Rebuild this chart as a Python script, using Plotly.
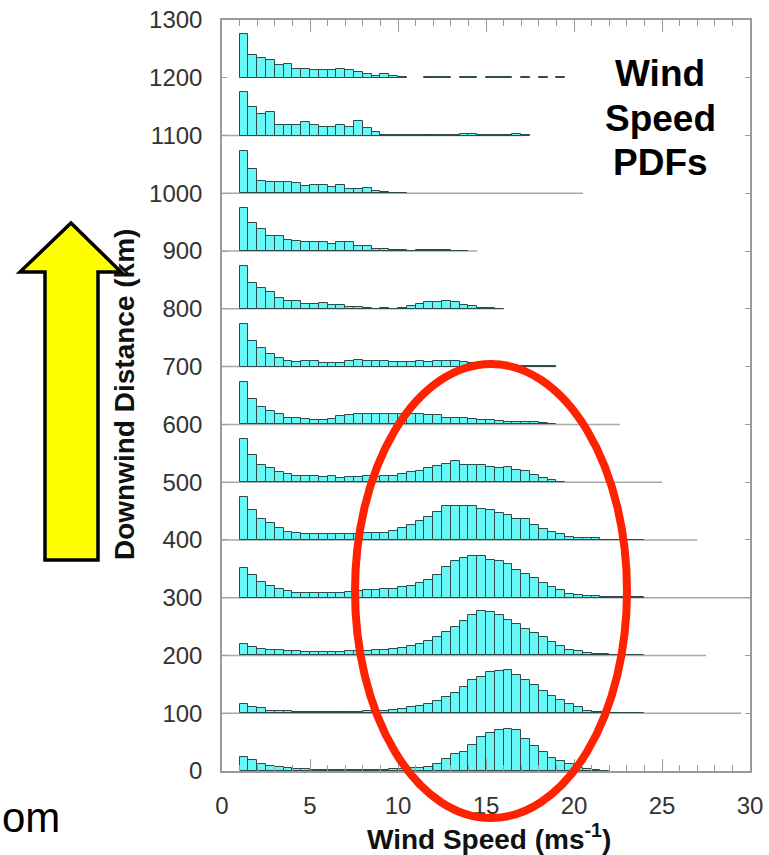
import plotly.graph_objects as go

# ---- data -------------------------------------------------------------
# Wind-speed histograms (0.5 m/s bins starting at 1 m/s) at each downwind
# distance; heights are in y-axis units above that row's baseline.
bin_start = 1.0
bin_width = 0.5

distances_km = [0, 100, 200, 300, 400, 500, 600, 700, 800, 900, 1000, 1100, 1200]

pdf_0km = [24, 18.5, 11.5, 8.7, 7.5, 4.6, 3.5, 2.9, 1, 1, 1, 1, 1, 1.7, 1.7, 1.7, 1.7,
           2.9, 4, 4.6, 5.8, 7.5, 12.7, 20, 29, 33.5, 45, 59, 66, 70.4, 72, 71, 55,
           43, 33.5, 23, 17.3, 12.7, 5.8, 3.5, 1.2, 0.5]
pdf_100km = [16, 10.4, 8.7, 4.6, 4.6, 3.5, 2.3, 1.7, 1.7, 1.7, 1.7, 1.7, 1.7, 1.7, 3.5,
             4.6, 4.6, 5.8, 7.5, 10.4, 13, 16, 21, 28, 34.6, 45, 57.7, 62, 71, 72.7,
             75, 67, 57.7, 49.6, 38, 30.6, 23, 16, 10.4, 4.6, 1.7, 1.5, 1, 0.5, 0.5, 0.5]
pdf_200km = [19.6, 14.4, 11, 9.8, 9.8, 7, 7, 5.8, 5.8, 5.8, 5.8, 5.8, 7, 7, 8, 9, 10,
             11, 13, 16.7, 20, 25, 32, 40, 49, 59, 70, 77, 74.5, 70, 62, 55, 45.6,
             38.7, 31.8, 22.5, 15.6, 9.8, 7, 4, 2.9, 1.7, 0.5, 0.5, 0.5, 0.5]
pdf_300km = [52, 39, 28, 21, 15.6, 11.5, 8, 8, 8, 8, 8, 8, 10, 11.5, 12.7, 14, 14.4,
             15.6, 18.5, 21, 25, 30, 40, 53, 63, 69, 72, 73, 66, 63, 59, 48.5, 41.5,
             34.6, 25, 18.5, 12.7, 7, 4, 3, 2.3, 2, 2, 1.5, 1, 0.5]
pdf_400km = [75, 52, 36, 30, 21, 14.4, 11.5, 9.8, 9.8, 9.8, 9.8, 9.8, 9.8, 9.8, 12.7,
             12.7, 12.7, 15.6, 20, 25, 32, 39, 49, 58, 59, 58, 58, 53, 52, 47, 43, 36,
             36, 26, 18.5, 14.4, 10.4, 5.8, 3.5, 3.5, 3.5, 0.5, 0.5, 0.5, 0.5, 0.5]
pdf_500km = [74, 47, 29, 25, 17.3, 13.3, 11.5, 9.8, 11.5, 8.7, 9.8, 7.5, 8.7, 8.7,
             11.5, 8.7, 11.5, 11.5, 14, 17, 20, 24, 28, 32, 37, 29, 29, 29, 27, 25,
             27, 21, 20, 12, 8, 3, 0.8]
pdf_600km = [73, 44, 30, 23, 18.5, 11, 11, 9.2, 7, 7, 9.8, 13.8, 15.6, 17.3, 18.5,
             18.5, 18.5, 17.3, 18.5, 18.5, 17.3, 15.6, 15.6, 11.5, 11.5, 11.5, 9, 8,
             7, 6, 5, 5, 4, 4, 2, 0.5]
pdf_700km = [74, 44, 32, 22, 15, 10.4, 7.5, 10.4, 10.4, 6.3, 6.3, 6.3, 10.4, 11.5,
             10.4, 10.4, 10.4, 7.5, 7.5, 7.5, 9.2, 7.5, 9.2, 10.4, 9, 8, 7, 5, 4, 3,
             2, 1.5, 1, 1, 0.5, 0.5]
pdf_800km = [74, 44, 36, 29, 19, 13.3, 13.3, 8.7, 8.7, 10.4, 6.3, 6.3, 4, 2.9, 1, 0.5,
             2, 0.5, 2, 4.6, 8.7, 11, 11, 13.3, 11.5, 7.5, 4.6, 2.3, 1.5, 0.5]
pdf_900km = [75, 49, 37.5, 26, 26, 18.5, 16.7, 15.6, 15.6, 15.6, 11.5, 15.6, 15.6, 8,
             8, 4, 4, 2.3, 1.5, 1, 2, 2, 2, 2, 1, 0.5]
pdf_1000km = [74, 42, 22, 19, 19, 19, 17.3, 13.3, 15, 15, 11.5, 15, 7.5, 7.5, 8.7,
              4.6, 2.3, 1, 0.5]
pdf_1100km = [75, 49, 37.5, 41.5, 18.5, 18.5, 18.5, 23, 19, 15.6, 15.6, 18.5, 15.6,
              26, 12.7, 5.8, 1.7, 1.7, 1.7, 1.7, 0.5, 0.5, 0.5, 0.5, 0.5, 3, 2.5, 1.5,
              0.5, 0.5, 0.5, 2, 0.5]
pdf_1200km = [76, 38.6, 34.6, 30, 22.5, 23, 15.6, 15.6, 12.7, 12.7, 12.7, 15.6, 12.7,
              9.8, 5.8, 3.5, 6.9, 3.5, 0.5, None, None, 0.5, 0.5, 0.5, None, 0.5, 0.5,
              None, 0.5, 0.5, 0.5, None, 0.5, None, 0.5, None, 0.5]

row_pdfs = [pdf_0km, pdf_100km, pdf_200km, pdf_300km, pdf_400km, pdf_500km, pdf_600km,
            pdf_700km, pdf_800km, pdf_900km, pdf_1000km, pdf_1100km, pdf_1200km]

# wind speed at which each row's baseline stops (None: no baseline drawn)
baseline_end = [None, 29.5, 27.5, 30, 27.0, 25.0, 22.6, 19.0, 16.0, 14.5, 20.5, 17.1, None]

x_tick_vals = [0, 5, 10, 15, 20, 25, 30]
y_tick_vals = list(range(0, 1301, 100))

# ---- styling ----------------------------------------------------------
W, H = 769, 855
L, R, T, B = 222, 750, 20, 771          # plot area in pixels
CYAN = "#66F7F7"
EDGE = "#2E4A4A"
FRAME = "#9A9A9A"
BASE = "#A8A8A8"
FONT = "Liberation Sans, Arial, Helvetica, sans-serif"


def px(x):
    return (x - L) / (R - L)


def py(y):
    return (B - y) / (B - T)


fig = go.Figure()

for dist, heights in zip(distances_km, row_pdfs):
    centers = [bin_start + bin_width * (k + 0.5) for k in range(len(heights))]
    fig.add_trace(go.Bar(
        x=centers, y=heights, base=dist, width=bin_width,
        marker=dict(color=CYAN, line=dict(color=EDGE, width=1)),
        showlegend=False, hoverinfo="skip",
    ))

shapes = []
for dist, end in zip(distances_km, baseline_end):
    if end is None:
        continue
    shapes.append(dict(type="line", xref="x", yref="y", x0=0, x1=end, y0=dist, y1=dist,
                       line=dict(color=BASE, width=1.5), layer="below"))

# highlight ellipse around the downstream high-wind mode
shapes.append(dict(type="circle", xref="paper", yref="paper",
                   x0=px(355), x1=px(627), y0=py(818), y1=py(364),
                   line=dict(color="#FF2200", width=8), layer="above"))

# yellow "downwind" arrow
arrow_pts = [(71, 223), (121, 272), (98, 272), (98, 560), (45, 560), (45, 272), (20, 272)]
path = "M " + " L ".join(f"{px(a):.5f},{py(b):.5f}" for a, b in arrow_pts) + " Z"
shapes.append(dict(type="path", xref="paper", yref="paper", path=path,
                   fillcolor="#FFFF00", line=dict(color="black", width=3.5), layer="above"))


def note(text, x, y, size, color="black", angle=0, xanchor="center"):
    return dict(text=text, x=px(x), y=py(y), showarrow=False, xref="paper", yref="paper",
                xanchor=xanchor, yanchor="middle", textangle=angle,
                font=dict(family=FONT, size=size, color=color))


annotations = [
    note("<b>Wind</b>", 660, 73, 37),
    note("<b>Speed</b>", 660, 118, 37),
    note("<b>PDFs</b>", 660, 162, 37),
    note("<b>Wind Speed (ms<sup>-1</sup>)</b>", 489, 837, 28, color="#111"),
    note("<b>Downwind Distance (km)</b>", 125, 395, 28, color="#111", angle=-90),
    note("om", 0, 818, 42, xanchor="left"),
]

fig.update_layout(
    width=W, height=H, autosize=False,
    margin=dict(l=L, r=W - R, t=T, b=H - B, pad=0, autoexpand=False),
    paper_bgcolor="white", plot_bgcolor="white",
    barmode="overlay", bargap=0,
    shapes=shapes, annotations=annotations,
    font=dict(family=FONT, size=24, color="#333"),
)
fig.update_xaxes(
    range=[0, 30], tickvals=x_tick_vals, ticks="inside", ticklen=12, tickcolor=FRAME,
    tickwidth=1, showline=True, linecolor=FRAME, linewidth=1.5, mirror="allticks",
    showgrid=False, zeroline=False, ticklabelstandoff=12,
    tickfont=dict(family=FONT, size=24, color="#333"),
    minor=dict(dtick=1, ticks="inside", ticklen=6, tickcolor=FRAME, showgrid=False),
)
fig.update_yaxes(
    range=[0, 1300], tickvals=y_tick_vals, ticks="inside", ticklen=5, tickcolor=FRAME,
    tickwidth=1, showline=True, linecolor=FRAME, linewidth=1.5, mirror="allticks",
    showgrid=False, zeroline=False, ticklabelstandoff=13,
    tickfont=dict(family=FONT, size=24, color="#333"),
)

fig.write_html("out.html")
